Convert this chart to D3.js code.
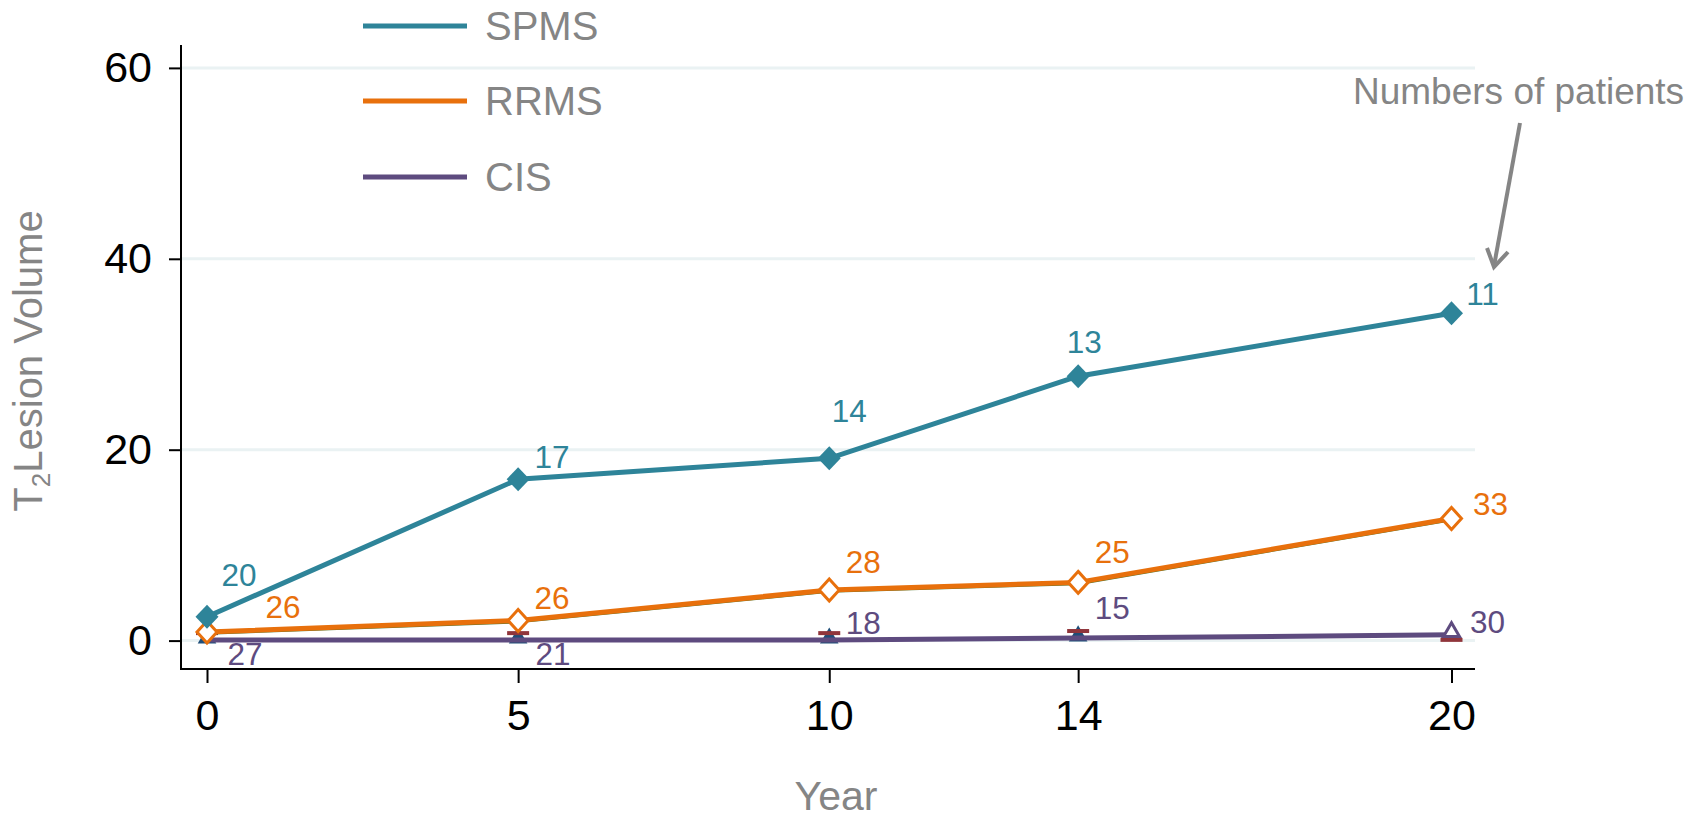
<!DOCTYPE html>
<html>
<head>
<meta charset="utf-8">
<script src="https://cdn.jsdelivr.net/npm/d3@7"></script>
<style>
  html, body { margin: 0; padding: 0; background: #ffffff; }
  svg { display: block; font-family: "Liberation Sans", Arial, sans-serif; }
</style>
</head>
<body>
<svg id="chart" width="1691" height="813"></svg>
<script>
// ---------- data ----------
const years = [0, 5, 10, 14, 20];
const seriesNames = ["SPMS", "RRMS", "CIS"];
const spmsValues = [2.5, 16.9, 19.1, 27.7, 34.3];
const rrmsValues = [0.9, 2.1, 5.3, 6.1, 12.8];
const cisValues  = [0.05, 0.05, 0.05, 0.27, 0.6];
const spmsPatients = [20, 17, 14, 13, 11];
const rrmsPatients = [26, 26, 28, 25, 33];
const cisPatients  = [27, 21, 18, 15, 30];
const yTicks = [0, 20, 40, 60];
const xTicks = [0, 5, 10, 14, 20];
const annotationText = "Numbers of patients";

// ---------- layout / style ----------
const colors = { SPMS: "#2e8499", RRMS: "#e8700c", CIS: "#5e4b7f" };
const gray = "#858585";
const gridColor = "#eaf2f3";
// pixel offsets of the patient-count labels (layout only)
const labelOffsets = {
  SPMS: [[32, -42], [34, -23], [20, -48], [6, -35], [31, -20]],
  RRMS: [[76, -25], [34, -23], [34, -28], [34, -31], [39, -15]],
  CIS:  [[38, 14], [35, 14], [34, -17], [34, -30], [36, -13]]
};

const svg = d3.select("#chart");
const x = d3.scaleLinear().domain([0, 20]).range([207, 1451.5]);
const y = d3.scaleLinear().domain([0, 60]).range([640.6, 67.9]);
const plotLeft = 181, plotRight = 1475, plotTop = 45, plotBottom = 669;

// grid lines
svg.append("g").selectAll("line").data(yTicks).join("line")
  .attr("x1", plotLeft).attr("x2", plotRight)
  .attr("y1", d => y(d)).attr("y2", d => y(d))
  .attr("stroke", gridColor).attr("stroke-width", 3);

// axes
const yAxis = d3.axisLeft(y).tickValues(yTicks).tickSize(12).tickPadding(17);
const gy = svg.append("g").attr("transform", `translate(${plotLeft},0)`).call(yAxis);
gy.select(".domain").remove();
gy.selectAll(".tick line").attr("stroke", "#000").attr("stroke-width", 2);
gy.selectAll(".tick text").attr("font-size", 43).attr("fill", "#000")
  .attr("font-family", "Liberation Sans, Arial, sans-serif");

const xAxis = d3.axisBottom(x).tickValues(xTicks).tickSize(14).tickPadding(16);
const gx = svg.append("g").attr("transform", `translate(0,${plotBottom})`).call(xAxis);
gx.select(".domain").remove();
gx.selectAll(".tick line").attr("stroke", "#000").attr("stroke-width", 2);
gx.selectAll(".tick text").attr("font-size", 43).attr("fill", "#000")
  .attr("font-family", "Liberation Sans, Arial, sans-serif");

svg.append("line").attr("x1", plotLeft).attr("x2", plotLeft)
  .attr("y1", plotTop).attr("y2", plotBottom + 1)
  .attr("stroke", "#000").attr("stroke-width", 2);
svg.append("line").attr("x1", plotLeft - 1).attr("x2", plotRight)
  .attr("y1", plotBottom).attr("y2", plotBottom)
  .attr("stroke", "#000").attr("stroke-width", 2);

// axis titles
svg.append("text").attr("x", 836).attr("y", 810)
  .attr("text-anchor", "middle").attr("font-size", 41).attr("fill", gray).text("Year");
const yt = svg.append("text").attr("transform", "translate(42,361) rotate(-90)")
  .attr("text-anchor", "middle").attr("font-size", 40).attr("fill", gray);
yt.append("tspan").text("T");
yt.append("tspan").attr("font-size", 26).attr("dy", 8).text("2");
yt.append("tspan").attr("dy", -8).text("Lesion Volume");

// helpers
const line = d3.line().x(d => x(d[0])).y(d => y(d[1]));
const zip = vals => years.map((yr, i) => [yr, vals[i]]);

// hidden background markers (underlying overlapping series)
const cisPts = zip(cisValues);
svg.append("g").selectAll("path").data(cisPts.slice(0, 4)).join("path")
  .attr("transform", d => `translate(${x(d[0])},${y(d[1]) - 2})`)
  .attr("d", d3.symbol(d3.symbolTriangle, 150)())
  .attr("fill", "#1f4e79");
svg.append("g").selectAll("rect").data(cisPts).join("rect")
  .attr("x", d => x(d[0]) - 11)
  .attr("y", (d, i) => i === 4 ? y(d[1]) + 3 : y(d[1]) - 9)
  .attr("width", 22).attr("height", 4).attr("fill", "#90353b");
svg.append("path").datum(zip(rrmsValues))
  .attr("d", line).attr("transform", "translate(0,0.8)")
  .attr("fill", "none").attr("stroke", "#55752f").attr("stroke-width", 4);

// CIS
svg.append("path").datum(cisPts).attr("d", line)
  .attr("fill", "none").attr("stroke", colors.CIS).attr("stroke-width", 5);
svg.append("path").datum(cisPts[4])
  .attr("transform", d => `translate(${x(d[0])},${y(d[1]) - 3})`)
  .attr("d", d3.symbol(d3.symbolTriangle, 110)())
  .attr("fill", "#ffffff").attr("stroke", colors.CIS).attr("stroke-width", 3);

// RRMS
const rrmsPts = zip(rrmsValues);
svg.append("path").datum(rrmsPts).attr("d", line)
  .attr("fill", "none").attr("stroke", colors.RRMS).attr("stroke-width", 5);
svg.append("g").selectAll("path").data(rrmsPts).join("path")
  .attr("transform", d => `translate(${x(d[0])},${y(d[1])})`)
  .attr("d", "M0,-11L10,0L0,11L-10,0Z")
  .attr("fill", "#ffffff").attr("stroke", colors.RRMS).attr("stroke-width", 3);

// SPMS
const spmsPts = zip(spmsValues);
svg.append("path").datum(spmsPts).attr("d", line)
  .attr("fill", "none").attr("stroke", colors.SPMS).attr("stroke-width", 5);
svg.append("g").selectAll("path").data(spmsPts).join("path")
  .attr("transform", d => `translate(${x(d[0])},${y(d[1])})`)
  .attr("d", "M0,-12L11.5,0L0,12L-11.5,0Z")
  .attr("fill", colors.SPMS);

// patient-count labels
const labelSets = [
  ["SPMS", spmsPts, spmsPatients],
  ["RRMS", rrmsPts, rrmsPatients],
  ["CIS", cisPts, cisPatients]
];
labelSets.forEach(([name, pts, counts]) => {
  svg.append("g").selectAll("text").data(pts).join("text")
    .attr("x", (d, i) => x(d[0]) + labelOffsets[name][i][0])
    .attr("y", (d, i) => y(d[1]) + labelOffsets[name][i][1])
    .attr("dy", "0.36em")
    .attr("text-anchor", "middle")
    .attr("font-size", 31.5)
    .attr("fill", colors[name])
    .text((d, i) => counts[i]);
});

// legend
const legendY = [26, 101, 177];
const lg = svg.append("g").selectAll("g").data(seriesNames).join("g")
  .attr("transform", (d, i) => `translate(0,${legendY[i]})`);
lg.append("line").attr("x1", 363).attr("x2", 467).attr("y1", 0).attr("y2", 0)
  .attr("stroke", d => colors[d]).attr("stroke-width", 5);
lg.append("text").attr("x", 485).attr("y", 14)
  .attr("font-size", 40).attr("fill", gray).text(d => d);

// annotation
svg.append("text").attr("x", 1353).attr("y", 104)
  .attr("font-size", 37).attr("fill", gray).text(annotationText);
svg.append("line").attr("x1", 1520).attr("y1", 123).attr("x2", 1494).attr("y2", 266)
  .attr("stroke", gray).attr("stroke-width", 4);
svg.append("path").attr("d", "M1487,248L1494,267L1508,252")
  .attr("fill", "none").attr("stroke", gray).attr("stroke-width", 4)
  .attr("stroke-linejoin", "miter");
</script>
</body>
</html>
